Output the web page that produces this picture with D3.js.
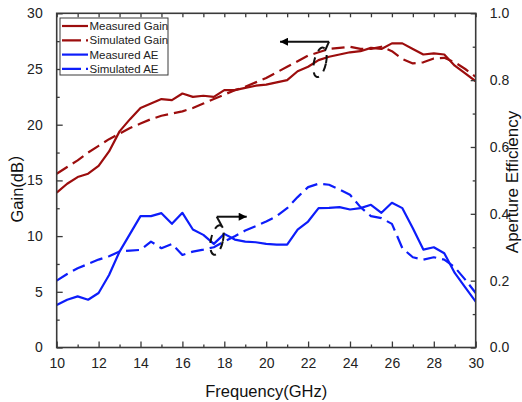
<!DOCTYPE html>
<html><head><meta charset="utf-8">
<script src="https://cdn.jsdelivr.net/npm/d3@7"></script>
<style>
html,body{margin:0;padding:0;background:#fff;}
svg{display:block;font-family:"Liberation Sans",Arial,"Noto Sans CJK SC",sans-serif;}
</style></head>
<body>
<svg id="chart" width="522" height="402"></svg>
<script>
// ---- data ----
const freq = d3.range(10, 30.001, 0.5);
const measuredGain = [13.9,14.7,15.3,15.6,16.3,17.6,19.4,20.5,21.5,21.9,22.3,22.2,22.8,22.5,22.6,22.5,23.1,23.1,23.3,23.5,23.6,23.8,24.0,24.8,25.2,25.8,26.1,26.3,26.5,26.6,26.9,26.8,27.3,27.3,26.8,26.3,26.4,26.3,25.3,24.6,23.9];
const simulatedGain = [15.6,16.2,16.8,17.5,18.1,18.7,19.2,19.7,20.1,20.5,20.8,21.0,21.2,21.5,21.9,22.3,22.7,23.1,23.4,23.8,24.2,24.7,25.2,25.7,26.2,26.5,26.8,26.9,27.0,26.8,26.8,27.0,26.6,25.9,25.5,25.6,25.95,26.0,25.6,25.0,24.3];
const measuredAE = [0.127,0.143,0.153,0.143,0.163,0.217,0.287,0.340,0.393,0.393,0.402,0.370,0.403,0.353,0.337,0.310,0.340,0.323,0.317,0.315,0.310,0.308,0.308,0.353,0.377,0.417,0.418,0.420,0.413,0.417,0.427,0.403,0.433,0.417,0.357,0.293,0.300,0.282,0.223,0.180,0.137];
const simulatedAE = [0.200,0.220,0.237,0.250,0.263,0.273,0.287,0.290,0.292,0.317,0.297,0.310,0.277,0.287,0.293,0.300,0.317,0.333,0.350,0.363,0.377,0.393,0.417,0.450,0.480,0.490,0.487,0.473,0.457,0.420,0.393,0.387,0.370,0.297,0.270,0.263,0.270,0.263,0.240,0.203,0.163];
const xTicks = [10,12,14,16,18,20,22,24,26,28,30];
const gainTicks = [0,5,10,15,20,25,30];
const aeTicks = [0,0.2,0.4,0.6,0.8,1.0];
const seriesNames = ["Measured Gain","Simulated Gain","Measured AE","Simulated AE"];
// annotation anchors (data coords): ellipse centre, arrow y, arrow start/end x
const leftArrow = {cx:22.57, cy:25.6, ay:27.45, ax0:23.0, ax1:20.66};
const rightArrow = {cx:17.65, cy:9.65, ay:11.74, ax0:17.64, ax1:19.07};

// ---- layout ----
const svg = d3.select("#chart");
const L = 56.7, R = 475.7, T = 13.3, B = 347.5;
const x = d3.scaleLinear().domain([10,30]).range([L,R]);
const yG = d3.scaleLinear().domain([0,30]).range([B,T]);
const yA = d3.scaleLinear().domain([0,1]).range([B,T]);
const red = "#9c0d0d", blue = "#0d1dfa", axisCol = "#3a3a3a";
const dash = "13,6";

// lines
const lineG = d3.line().x((d,i)=>x(freq[i])).y(d=>yG(d));
const lineA = d3.line().x((d,i)=>x(freq[i])).y(d=>yA(d));
const lines = [
  {data:measuredGain, gen:lineG, color:red, dash:null},
  {data:simulatedGain, gen:lineG, color:red, dash:dash},
  {data:measuredAE, gen:lineA, color:blue, dash:null},
  {data:simulatedAE, gen:lineA, color:blue, dash:dash}
];
svg.append("defs").append("clipPath").attr("id","clip")
  .append("rect").attr("x",L).attr("y",T).attr("width",R-L).attr("height",B-T);
const g = svg.append("g").attr("clip-path","url(#clip)");
lines.forEach(s=>{
  g.append("path").attr("d", s.gen(s.data)).attr("fill","none")
   .attr("stroke", s.color).attr("stroke-width",2.2)
   .attr("stroke-linejoin","round")
   .attr("stroke-dasharray", s.dash);
});

// axes
function styleAxis(sel){
  sel.select(".domain").remove();
  sel.selectAll("line").attr("stroke",axisCol).attr("stroke-width",1.3);
  sel.selectAll("text").attr("fill","#222").attr("font-size","14px")
     .attr("font-family","Liberation Sans, Arial, sans-serif");
}
const xMinor = d3.range(11,30,2);
svg.append("g").attr("transform",`translate(0,${B})`)
  .call(d3.axisBottom(x).tickValues(xTicks).tickSizeInner(-6).tickSizeOuter(0).tickPadding(11).tickFormat(d3.format("d")))
  .call(styleAxis);
svg.append("g").attr("transform",`translate(0,${B})`)
  .call(d3.axisBottom(x).tickValues(xMinor).tickSizeInner(-3).tickSizeOuter(0).tickFormat(""))
  .call(styleAxis);
svg.append("g").attr("transform",`translate(0,${T})`)
  .call(d3.axisTop(x).tickValues(d3.range(10,31,1)).tickSizeInner(-4).tickSizeOuter(0).tickFormat(""))
  .call(styleAxis);
svg.append("g").attr("transform",`translate(${L},0)`)
  .call(d3.axisLeft(yG).tickValues(gainTicks).tickSizeInner(-6).tickSizeOuter(0).tickPadding(14).tickFormat(d3.format("d")))
  .call(styleAxis);
svg.append("g").attr("transform",`translate(${L},0)`)
  .call(d3.axisLeft(yG).tickValues(d3.range(2.5,30,5)).tickSizeInner(-3).tickSizeOuter(0).tickFormat(""))
  .call(styleAxis);
svg.append("g").attr("transform",`translate(${R},0)`)
  .call(d3.axisRight(yA).tickValues(aeTicks).tickSizeInner(-5).tickSizeOuter(0).tickPadding(14).tickFormat(d3.format(".1f")))
  .call(styleAxis);
svg.append("g").attr("transform",`translate(${R},0)`)
  .call(d3.axisRight(yA).tickValues([0.1,0.3,0.5,0.7,0.9]).tickSizeInner(-3).tickSizeOuter(0).tickFormat(""))
  .call(styleAxis);
// frame
svg.append("rect").attr("x",L).attr("y",T).attr("width",R-L).attr("height",B-T)
  .attr("fill","none").attr("stroke",axisCol).attr("stroke-width",1.6);

// axis titles
svg.append("text").attr("x",(L+R)/2).attr("y",397).attr("text-anchor","middle")
  .attr("font-size","16.5px").attr("fill","#111").text("Frequency(GHz)");
svg.append("text").attr("transform",`translate(23,${184}) rotate(-90)`).attr("text-anchor","middle")
  .attr("font-size","16.5px").attr("fill","#111")
  .attr("font-family","Liberation Sans, Arial, Noto Sans CJK SC, sans-serif").text("Gain(dB）");
svg.append("text").attr("transform",`translate(517.5,${182}) rotate(-90)`).attr("text-anchor","middle")
  .attr("font-size","17px").attr("fill","#111").text("Aperture Efficiency");

// legend
const lg = svg.append("g");
lg.append("rect").attr("x",60).attr("y",18).attr("width",108).attr("height",57)
  .attr("fill","#fff").attr("stroke",axisCol).attr("stroke-width",1);
lines.forEach((s,i)=>{
  const yy = 26 + i*14.3;
  lg.append("line").attr("x1",62).attr("x2",88).attr("y1",yy).attr("y2",yy)
    .attr("stroke",s.color).attr("stroke-width",2.2)
    .attr("stroke-dasharray", s.dash ? "19,5" : null);
  lg.append("text").attr("x",89.5).attr("y",yy+4).attr("font-size","11.5px")
    .attr("fill","#222").text(seriesNames[i]);
});

// annotations (ellipse + arrow)
svg.append("defs").append("marker").attr("id","ah").attr("viewBox","0 0 10 10")
  .attr("refX",10).attr("refY",5).attr("markerWidth",12).attr("markerHeight",8)
  .attr("markerUnits","userSpaceOnUse").attr("orient","auto")
  .append("path").attr("d","M0,0L10,5L0,10Z").attr("fill","#000");
function annot(a, dir){
  const cx = x(a.cx), cy = yG(a.cy), ay = yG(a.ay);
  svg.append("ellipse").attr("cx",cx).attr("cy",cy).attr("rx",6).attr("ry",15)
    .attr("fill","none").attr("stroke","#111").attr("stroke-width",2)
    .attr("stroke-dasharray","8,7").attr("transform",`rotate(12,${cx},${cy})`);
  const x0 = x(a.ax0);
  svg.append("line").attr("x1", dir<0 ? x0-4 : x0+6).attr("y1", dir<0 ? ay+9 : ay+11)
    .attr("x2", x0).attr("y2", ay).attr("stroke","#111").attr("stroke-width",2);
  svg.append("line").attr("x1",x0).attr("y1",ay).attr("x2",x(a.ax1)).attr("y2",ay)
    .attr("stroke","#111").attr("stroke-width",2).attr("marker-end","url(#ah)");
}
annot(leftArrow,-1);
annot(rightArrow,1);
</script>
</body></html>
